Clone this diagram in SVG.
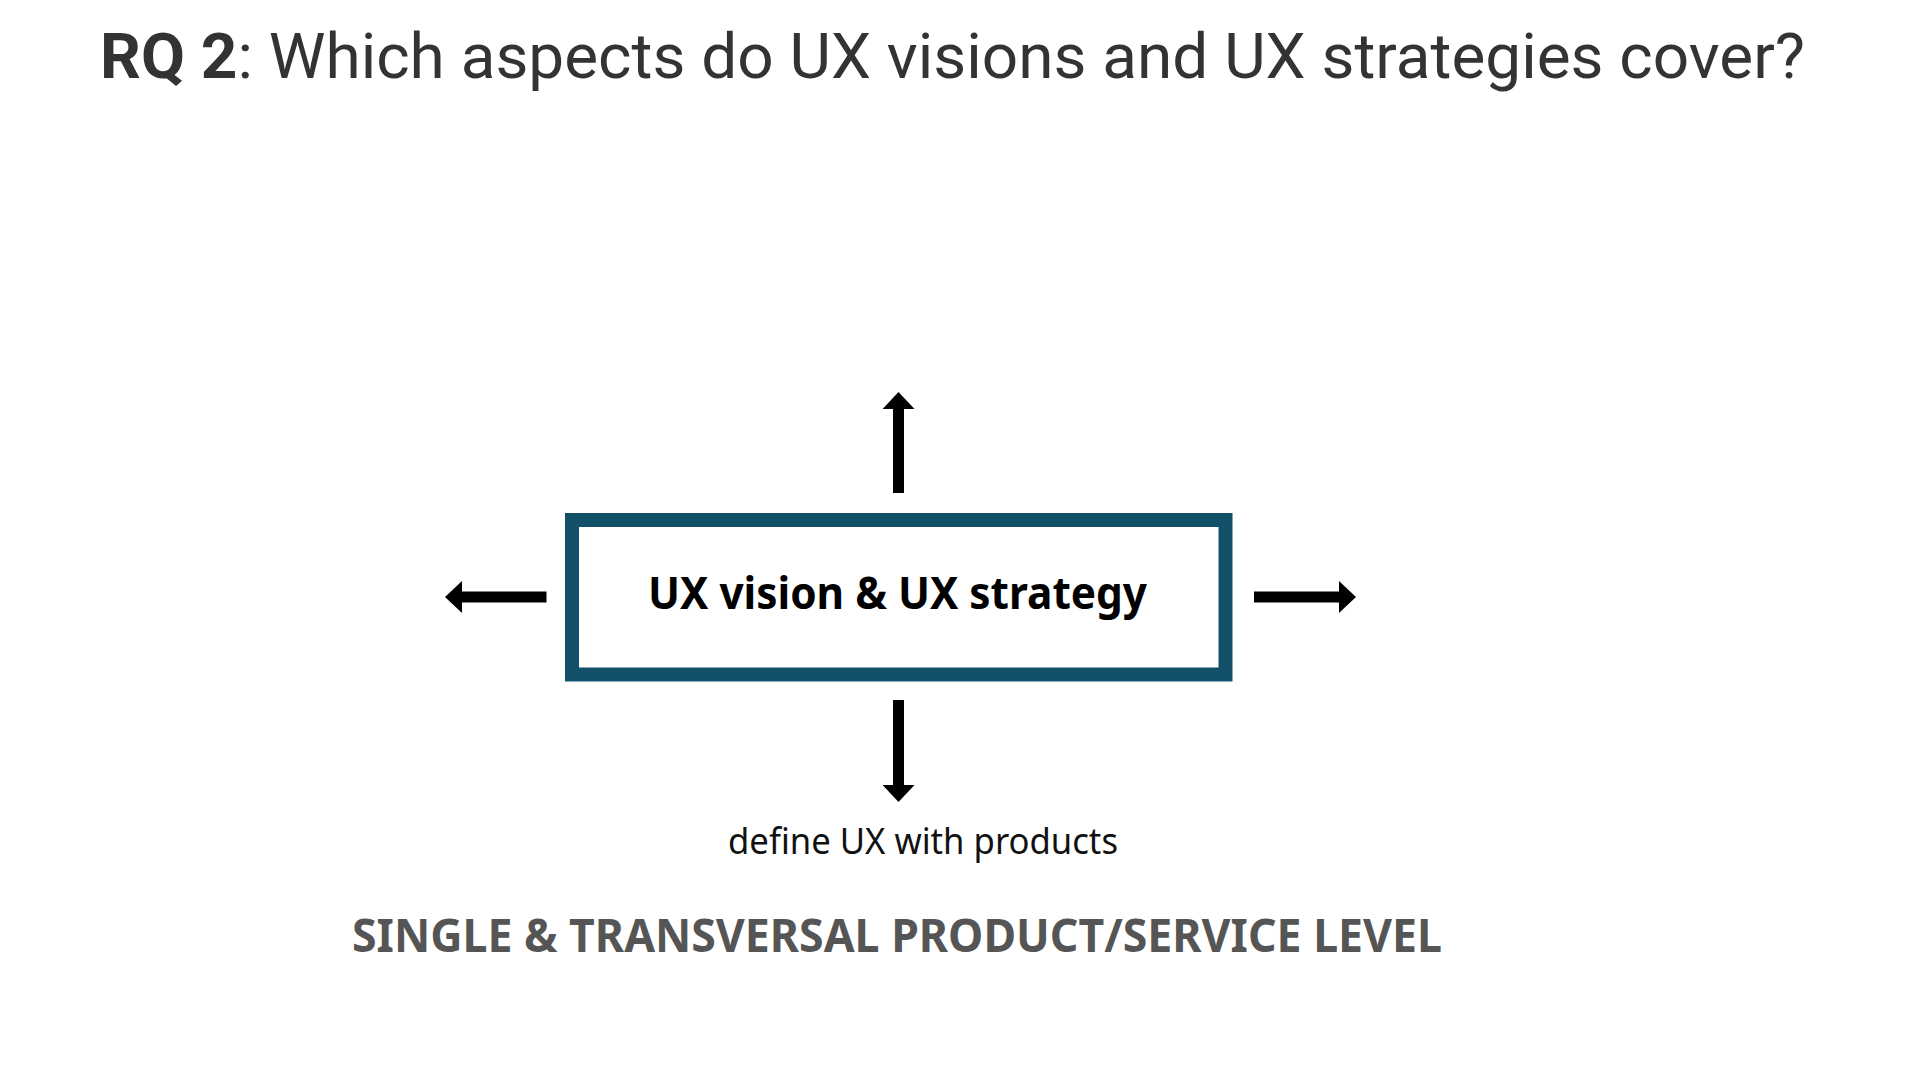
<svg xmlns="http://www.w3.org/2000/svg" width="1920" height="1080" viewBox="0 0 1920 1080">
  <style>
    .title { font-family: Roboto, "Liberation Sans", sans-serif; font-size: 63px; fill: #333333; }
    .node-label { font-family: "Noto Sans", "Open Sans", sans-serif; font-weight: 700; font-size: 45px; fill: #000000; }
    .caption { font-family: "Noto Sans", "Open Sans", sans-serif; font-size: 36px; fill: #111111; }
    .level { font-family: "Noto Sans", "Open Sans", sans-serif; font-weight: 700; font-size: 47px; fill: #555555; }
    .conn { stroke: #000000; stroke-width: 11; fill: none; marker-end: url(#head); }
  </style>
  <defs>
    <marker id="head" viewBox="0 0 17 32" refX="0" refY="16" markerWidth="17" markerHeight="32" markerUnits="userSpaceOnUse" orient="auto">
      <path d="M0,0 L17,16 L0,32 Z" fill="#000000"/>
    </marker>
  </defs>
  <rect width="1920" height="1080" fill="#ffffff"/>

  <text class="title" x="100" y="78" textLength="1705" lengthAdjust="spacingAndGlyphs"><tspan font-weight="700">RQ 2</tspan>: Which aspects do UX visions and UX strategies cover?</text>

  <g id="connectors">
    <line class="conn" x1="898.5" y1="493" x2="898.5" y2="409"/>
    <line class="conn" x1="546.5" y1="597" x2="462" y2="597"/>
    <line class="conn" x1="1254" y1="597" x2="1339" y2="597"/>
    <line class="conn" x1="898.5" y1="700" x2="898.5" y2="785"/>
  </g>

  <g id="node-ux-vision-strategy">
    <rect x="572" y="520" width="653.5" height="154.5" fill="#ffffff" stroke="#13516a" stroke-width="14"/>
    <text class="node-label" x="648" y="609" textLength="499" lengthAdjust="spacingAndGlyphs">UX vision &amp; UX strategy</text>
  </g>

  <g id="label-define">
    <text class="caption" x="728" y="854" textLength="390" lengthAdjust="spacingAndGlyphs">define UX with products</text>
  </g>

  <g id="label-level">
    <text class="level" x="352" y="952" textLength="1090" lengthAdjust="spacingAndGlyphs">SINGLE &amp; TRANSVERSAL PRODUCT/SERVICE LEVEL</text>
  </g>
</svg>
